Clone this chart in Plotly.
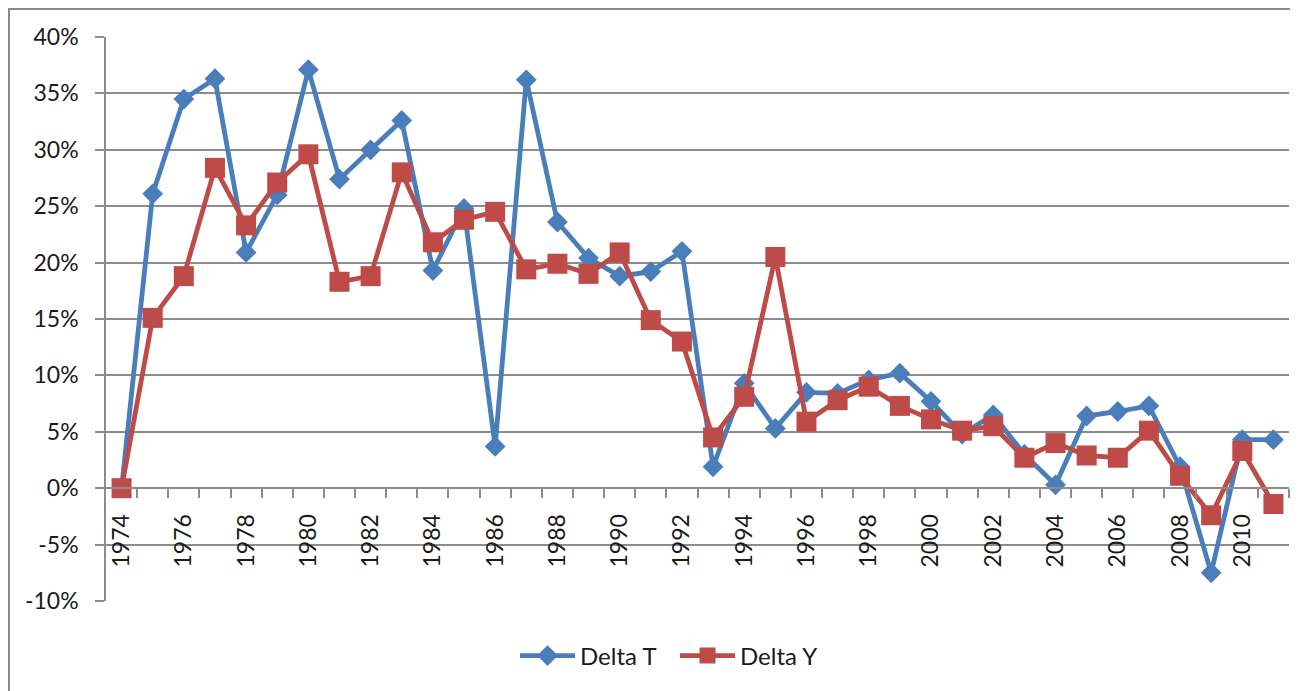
import plotly.graph_objects as go

years = list(range(1974, 2012))
delta_t = [0.0, 26.1, 34.5, 36.3, 20.9, 26.0, 37.1, 27.4, 30.0, 32.6,
           19.3, 24.8, 3.7, 36.2, 23.6, 20.4, 18.8, 19.2, 21.0, 1.9,
           9.3, 5.3, 8.5, 8.4, 9.6, 10.2, 7.7, 4.8, 6.5, 3.0,
           0.3, 6.4, 6.8, 7.3, 1.9, -7.5, 4.3, 4.3]
delta_y = [0.0, 15.1, 18.8, 28.4, 23.3, 27.1, 29.6, 18.3, 18.8, 28.0,
           21.8, 23.8, 24.5, 19.4, 19.9, 19.0, 20.9, 14.9, 13.0, 4.5,
           8.1, 20.5, 5.9, 7.8, 9.0, 7.3, 6.1, 5.1, 5.5, 2.7,
           4.0, 2.9, 2.7, 5.1, 1.1, -2.4, 3.3, -1.4]
x_labels = [str(y) for y in years if y % 2 == 0]
y_ticks = [-10, -5, 0, 5, 10, 15, 20, 25, 30, 35, 40]

BLUE = "#4A7EBB"
RED = "#BE4B48"
GRID = "#8c8c8c"
FONT = "Lato"

fig = go.Figure()
fig.add_trace(go.Scatter(
    x=years, y=delta_t, name="Delta T", mode="lines+markers",
    line=dict(color=BLUE, width=4.8),
    marker=dict(symbol="diamond", size=16, color=BLUE),
))
fig.add_trace(go.Scatter(
    x=years, y=delta_y, name="Delta Y", mode="lines+markers",
    line=dict(color=RED, width=4.8),
    marker=dict(symbol="square", size=20, color=RED),
))

ymin, ymax = -10, 40
zero_pos = (0 - ymin) / (ymax - ymin)

# page body adds an 8px offset: figure spans page x 8..1298, y 8..691
fig.update_layout(
    width=1290, height=683,
    margin=dict(l=98, r=9, t=29, b=90),
    paper_bgcolor="white", plot_bgcolor="white",
    font=dict(family=FONT, size=23, color="#1a1a1a"),
    showlegend=True,
    legend=dict(orientation="h", x=0.481, xanchor="center", y=-0.0975,
                yanchor="middle", font=dict(size=24, family=FONT),
                itemwidth=55, entrywidth=90, bgcolor="rgba(0,0,0,0)"),
    xaxis=dict(
        range=[years[0] - 0.5, years[-1] + 0.5],
        anchor="free", position=zero_pos,
        tickmode="array", tickvals=[int(v) for v in x_labels], ticktext=x_labels,
        tickangle=-90, ticks="outside", ticklen=9, tickcolor="rgba(0,0,0,0)",
        ticklabelstandoff=7,
        showgrid=False, zeroline=False,
        showline=True, linecolor=GRID, linewidth=1.5,
        tickfont=dict(family=FONT, size=23),
        minor=dict(tickmode="array",
                   tickvals=[y + 0.5 for y in years[:-1]] + [years[-1] + 0.5],
                   ticks="outside", ticklen=9, tickcolor=GRID, tickwidth=1.5,
                   showgrid=False),
    ),
    yaxis=dict(
        range=[ymin, ymax],
        tickmode="array", tickvals=y_ticks,
        ticktext=[f"{v}%" for v in y_ticks],
        ticks="outside", ticklen=9, tickcolor=GRID, tickwidth=1.5,
        ticklabelstandoff=12,
        showgrid=True, gridcolor=GRID, gridwidth=1.5,
        zeroline=False,
        showline=True, linecolor=GRID, linewidth=1.5,
        tickfont=dict(family=FONT, size=23),
    ),
    shapes=[dict(type="rect", xref="paper", yref="paper",
                 x0=(9 - 106) / 1183, x1=(1310 - 106) / 1183,
                 y0=-(700 - 601) / 564, y1=1 + (37 - 9) / 564,
                 line=dict(color="#8a8a8a", width=2), fillcolor="rgba(0,0,0,0)",
                 layer="below")],
)

fig.write_html("out.html")
